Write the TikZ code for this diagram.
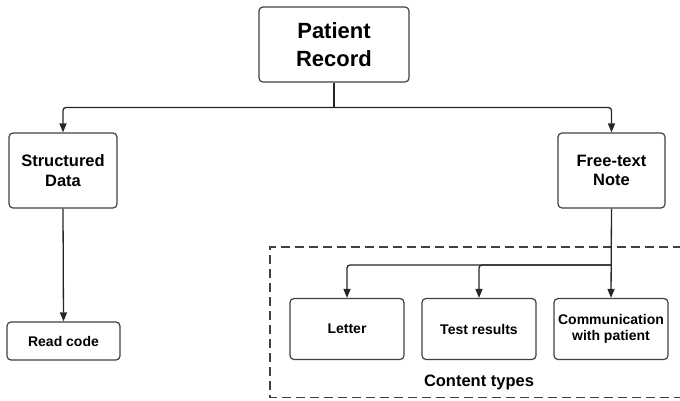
\documentclass[tikz,border=0pt]{standalone}
\usepackage{fontspec}
\setmainfont{Liberation Sans}
\usetikzlibrary{arrows.meta}
\begin{document}
\begin{tikzpicture}[x=1pt,y=-1pt,
  box/.style={draw=black!75,line width=1.2pt,rounded corners=4pt,align=center,font=\bfseries,inner sep=0pt},
  conn/.style={draw=black!85,line width=1.3pt,rounded corners=3pt},
  arr/.style={conn,-{Triangle[length=9pt,width=7pt]}}]
\useasboundingbox (0,0) rectangle (680,400);
\node[box,minimum width=150pt,minimum height=75pt,font=\bfseries\fontsize{22}{27.5}\selectfont] (pr) at (334,44.5) {Patient\\Record};
\node[box,minimum width=108pt,minimum height=75pt,font=\bfseries\fontsize{16.5}{19.5}\selectfont] (sd) at (63,170.5) {Structured\\Data};
\node[box,minimum width=107pt,minimum height=75pt,font=\bfseries\fontsize{16.5}{19.5}\selectfont] (ft) at (611.5,170.5) {Free-text\\Note};
\node[box,minimum width=113pt,minimum height=38pt,font=\bfseries\fontsize{14}{16}\selectfont] (rc) at (63.5,341) {Read code};
\node[box,minimum width=114pt,minimum height=61pt,font=\bfseries\fontsize{14}{16}\selectfont] (le) at (347,329) {Letter};
\node[box,minimum width=114pt,minimum height=61pt,font=\bfseries\fontsize{14}{16}\selectfont] (tr) at (479,329) {Test results};
\node[box,minimum width=114pt,minimum height=61pt,font=\bfseries\fontsize{14}{16.5}\selectfont] (cm) at (611,329) {Communication\\with patient};
\node[font=\bfseries\fontsize{16.5}{19}\selectfont,inner sep=0pt] (ct) at (479,382) {Content types};
\draw[draw=black!75,line width=1.2pt,dash pattern=on 9pt off 5pt] (682,247) -- (270,247) -- (270,397.5) -- (682,397.5);
\coordinate (j1) at (334,107.5);
\coordinate (j2) at (611,265);
\draw[conn] (pr.south) -- (j1);
\draw[arr] (j1) -| (sd.north);
\draw[arr] (j1) -| (ft.north);
\draw[arr] (sd.south) -- (rc.north);
\draw[arr] (ft.south) -- (cm.north);
\draw[arr] (j2) -| (le.north);
\draw[arr] (j2) -| (tr.north);
\end{tikzpicture}
\end{document}
